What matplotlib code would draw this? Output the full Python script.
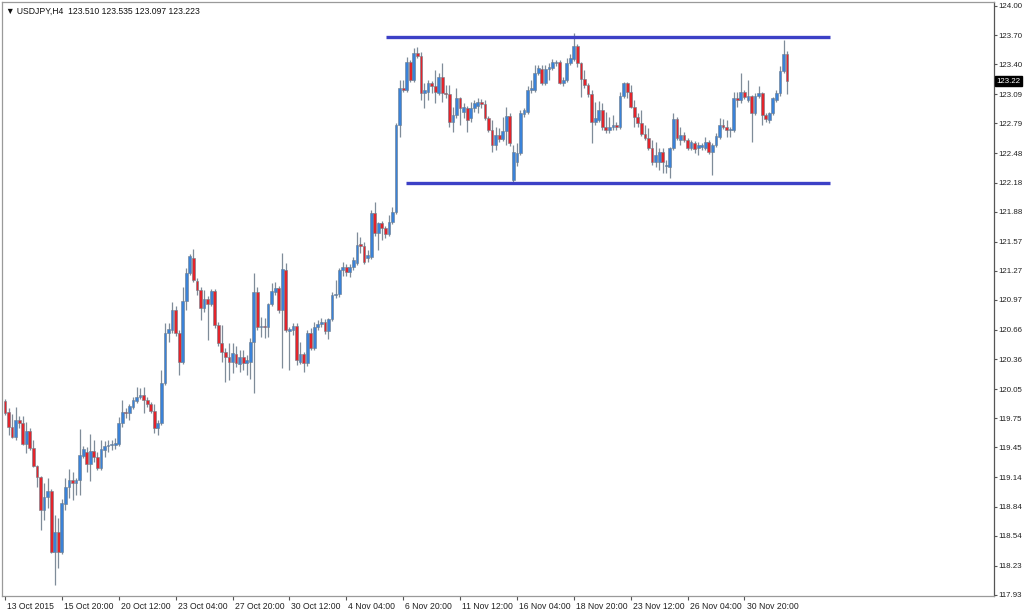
import matplotlib
matplotlib.use("Agg")
import matplotlib.pyplot as plt
import matplotlib.transforms as mtransforms

plt.rcParams['font.family'] = ['Liberation Sans', 'DejaVu Sans']

# ---------------- data (USDJPY H4) ----------------
opens = [119.93,119.81,119.66,119.56,119.73,119.70,119.48,119.62,119.44,119.26,
         119.14,118.80,118.94,119.00,118.37,118.58,118.37,118.87,119.04,119.11,
         119.08,119.11,119.36,119.40,119.28,119.41,119.35,119.24,119.42,119.46,
         119.47,119.47,119.48,119.70,119.81,119.80,119.87,119.93,119.97,119.99,
         119.94,119.90,119.82,119.65,119.70,120.11,120.63,120.66,120.87,120.63,
         120.33,120.96,121.25,121.40,121.16,121.07,120.89,120.98,120.93,121.06,
         120.71,120.53,120.43,120.38,120.33,120.41,120.31,120.38,120.32,120.33,
         120.54,121.05,120.69,120.70,120.69,120.93,121.05,121.09,120.87,121.28,
         120.65,120.66,120.70,120.33,120.41,120.32,120.63,120.47,120.69,120.72,
         120.74,120.65,120.77,121.02,121.03,121.28,121.31,121.26,121.31,121.35,
         121.54,121.53,121.40,121.41,121.87,121.66,121.76,121.71,121.65,121.77,
         121.88,122.77,123.15,123.13,123.42,123.24,123.52,123.48,123.10,123.11,
         123.21,123.18,123.10,123.27,123.10,123.09,122.80,122.88,123.05,122.91,
         122.95,122.85,122.95,122.97,123.01,122.99,122.85,122.72,122.57,122.67,
         122.63,122.71,122.87,122.21,122.39,122.48,122.89,122.91,123.13,123.13,
         123.31,123.35,123.21,123.35,123.36,123.41,123.42,123.21,123.24,123.41,
         123.45,123.59,123.41,123.25,123.19,123.09,122.80,122.82,122.93,122.75,
         122.72,122.75,122.77,122.75,123.07,123.21,123.11,122.96,122.86,122.79,
         122.68,122.64,122.54,122.39,122.39,122.49,122.35,122.34,122.54,122.84,
         122.62,122.67,122.62,122.54,122.59,122.54,122.55,122.54,122.60,122.49,
         122.57,122.65,122.77,122.75,122.72,122.72,123.05,123.03,123.11,123.03,
         123.07,122.90,123.07,123.10,122.88,122.82,122.90,123.03,123.10,123.33,
         123.510]
highs = [119.95,119.86,119.79,119.87,119.77,119.77,119.71,119.65,119.53,119.27,
         119.16,119.08,119.13,119.02,118.75,118.72,118.92,119.13,119.23,119.20,
         119.13,119.64,119.46,119.45,119.59,119.53,119.40,119.53,119.52,119.53,
         119.53,119.55,119.76,119.94,119.86,119.90,119.97,120.07,120.06,120.07,
         119.97,119.92,119.90,119.73,120.25,120.73,120.73,120.95,120.91,120.66,
         121.10,121.30,121.44,121.49,121.20,121.10,121.07,121.01,121.08,121.08,
         120.74,120.71,120.47,120.53,120.53,120.50,120.45,120.45,120.40,120.58,
         121.25,121.10,120.79,120.78,120.94,121.14,121.15,121.11,121.45,121.35,
         120.69,120.73,120.73,120.54,120.43,120.66,120.68,120.74,120.76,120.78,
         120.77,120.78,121.05,121.18,121.30,121.36,121.34,121.34,121.41,121.67,
         121.62,121.57,121.48,121.90,121.98,121.77,121.78,121.73,121.85,121.93,
         122.79,123.24,123.24,123.47,123.44,123.57,123.58,123.53,123.21,123.24,
         123.23,123.34,123.31,123.41,123.19,123.19,122.96,123.15,123.06,123.00,
         122.97,123.01,123.03,123.05,123.04,123.03,122.87,122.82,122.75,122.74,
         122.86,122.96,122.90,122.57,122.59,122.93,122.95,123.17,123.24,123.39,
         123.39,123.39,123.39,123.41,123.45,123.44,123.44,123.27,123.46,123.50,
         123.72,123.61,123.42,123.34,123.21,123.13,123.01,123.02,123.00,122.91,
         122.86,122.88,122.80,123.11,123.22,123.22,123.19,123.03,122.90,122.93,
         122.77,122.74,122.62,122.60,122.54,122.54,122.41,122.55,122.90,122.86,
         122.75,122.70,122.64,122.62,122.61,122.60,122.59,122.65,122.62,122.59,
         122.69,122.85,122.83,122.82,122.75,123.11,123.11,123.31,123.13,123.24,
         123.08,123.10,123.17,123.11,122.90,122.91,123.06,123.13,123.38,123.65,
         123.535]
lows = [119.78,119.58,119.55,119.53,119.65,119.47,119.39,119.42,119.25,119.04,
        118.60,118.70,118.83,118.36,118.03,118.21,118.35,118.80,118.93,118.91,
        118.96,118.96,119.34,119.20,119.10,119.30,119.22,119.22,119.35,119.40,
        119.42,119.43,119.46,119.66,119.75,119.73,119.85,119.91,119.95,119.80,
        119.87,119.80,119.60,119.58,119.68,120.09,120.54,120.63,120.60,120.20,
        120.31,120.87,121.23,121.15,121.02,120.76,120.85,120.56,120.91,120.68,
        120.49,120.33,120.12,120.14,120.22,120.28,120.23,120.25,120.20,120.16,
        120.01,120.66,120.59,120.58,120.59,120.91,121.02,120.84,120.27,120.64,
        120.25,120.61,120.30,120.31,120.23,120.29,120.45,120.45,120.66,120.69,
        120.62,120.57,120.75,120.99,121.00,121.22,121.22,121.21,121.28,121.33,
        121.45,121.34,121.36,121.39,121.63,121.48,121.59,121.61,121.63,121.75,
        121.86,122.65,123.11,123.11,123.22,123.22,123.46,123.03,122.95,123.03,
        123.10,123.00,123.08,123.01,123.05,122.75,122.70,122.85,122.77,122.85,
        122.70,122.80,122.91,122.90,122.95,122.82,122.70,122.49,122.52,122.60,
        122.61,122.57,122.56,122.19,122.35,122.46,122.86,122.89,123.10,123.11,
        123.29,123.19,123.19,123.24,123.34,123.38,123.20,123.18,123.22,123.39,
        123.43,123.37,123.06,123.15,123.06,122.59,122.77,122.80,122.72,122.69,
        122.69,122.72,122.72,122.73,123.05,123.05,122.95,122.75,122.75,122.66,
        122.62,122.52,122.36,122.34,122.31,122.28,122.28,122.23,122.52,122.62,
        122.57,122.60,122.52,122.52,122.48,122.46,122.52,122.52,122.47,122.26,
        122.55,122.63,122.73,122.65,122.65,122.70,122.96,123.00,123.04,123.01,
        122.60,122.88,123.05,122.77,122.80,122.79,122.88,123.01,123.07,123.31,
        123.097]
closes = [119.80,119.66,119.56,119.73,119.70,119.48,119.62,119.44,119.26,119.14,
          118.80,118.94,119.00,118.37,118.58,118.37,118.88,119.04,119.11,119.08,
          119.11,119.37,119.43,119.28,119.41,119.35,119.24,119.43,119.46,119.47,
          119.48,119.49,119.70,119.81,119.80,119.88,119.94,119.97,119.99,119.94,
          119.90,119.82,119.65,119.70,120.11,120.63,120.67,120.87,120.63,120.33,
          120.96,121.25,121.42,121.18,121.07,120.89,120.98,120.93,121.06,120.71,
          120.53,120.43,120.38,120.33,120.42,120.32,120.38,120.32,120.35,120.54,
          121.05,120.69,120.70,120.69,120.93,121.06,121.09,120.87,121.29,120.66,
          120.67,120.70,120.35,120.41,120.32,120.63,120.47,120.69,120.72,120.74,
          120.65,120.77,121.02,121.03,121.28,121.31,121.26,121.31,121.38,121.54,
          121.53,121.36,121.43,121.87,121.66,121.76,121.71,121.65,121.77,121.88,
          122.77,123.15,123.13,123.42,123.24,123.52,123.48,123.10,123.13,123.21,
          123.18,123.11,123.27,123.10,123.09,122.80,122.88,123.05,122.95,122.96,
          122.82,122.95,123.00,123.01,122.99,122.85,122.72,122.57,122.67,122.63,
          122.71,122.87,122.59,122.49,122.48,122.90,122.93,123.13,123.15,123.31,
          123.36,123.21,123.35,123.37,123.42,123.42,123.21,123.24,123.41,123.46,
          123.59,123.41,123.25,123.19,123.09,122.80,122.85,122.93,122.75,122.72,
          122.75,122.77,122.75,123.07,123.21,123.11,122.96,122.86,122.79,122.68,
          122.64,122.54,122.39,122.46,122.49,122.39,122.36,122.54,122.84,122.64,
          122.67,122.62,122.54,122.60,122.53,122.57,122.56,122.60,122.49,122.57,
          122.66,122.77,122.75,122.72,122.73,123.05,123.03,123.11,123.06,123.07,
          122.90,123.07,123.10,122.88,122.84,122.90,123.05,123.10,123.33,123.51,
          123.223]

xtick_bars = [0, 16, 32, 48, 64, 80, 96, 112, 128, 144, 160, 176, 192, 208]
xtick_labels = ["13 Oct 2015", "15 Oct 20:00", "20 Oct 12:00", "23 Oct 04:00",
                "27 Oct 20:00", "30 Oct 12:00", "4 Nov 04:00", "6 Nov 20:00",
                "11 Nov 12:00", "16 Nov 04:00", "18 Nov 20:00", "23 Nov 12:00",
                "26 Nov 04:00", "30 Nov 20:00"]
ytick_values = [124.00, 123.70, 123.40, 123.09, 122.79, 122.48, 122.18, 121.88,
                121.57, 121.27, 120.97, 120.66, 120.36, 120.05, 119.75, 119.45,
                119.14, 118.84, 118.54, 118.23, 117.93]
resistance = 123.68
support = 122.175
resistance_span = (107.2, 232.0)
support_span = (112.8, 232.0)
last_price = 123.223
title_text = "\u25BC USDJPY,H4  123.510 123.535 123.097 123.223"

# ---------------- drawing ----------------
BULL = "#3a82d8"
BEAR = "#e3242b"
WICK = "#7f8c99"
LINE = "#3c40c6"
FS = 6.2
FSY = 5.7

fig = plt.figure(figsize=(10.24, 6.14), dpi=100)
ax = fig.add_axes([2 / 1024, 18 / 614, 992 / 1024, 594 / 614])
ax.set_facecolor("white")

n = len(opens)
xs = list(range(n))
ax.vlines(xs, lows, highs, color=WICK, linewidth=0.9, zorder=2)
for i in xs:
    o, c = opens[i], closes[i]
    bottom = min(o, c)
    h = max(abs(c - o), 0.012)
    col = BULL if c >= o else BEAR
    ax.bar(i, h, bottom=bottom, width=0.78, color=col, edgecolor="#6e7d8c",
           linewidth=0.4, zorder=3)

ax.hlines(resistance, *resistance_span, color=LINE, linewidth=2.4, zorder=4)
ax.hlines(support, *support_span, color=LINE, linewidth=2.4, zorder=4)

ax.set_xlim(-0.84, 278.2)
ax.set_ylim(117.918, 124.041)

ax.yaxis.tick_right()
ax.set_yticks(ytick_values)
ax.set_yticklabels([f"{v:.2f}" for v in ytick_values])
ax.tick_params(axis="y", direction="out", length=2.5, width=0.8, colors="#555555",
               labelcolor="#222222", labelsize=FSY, pad=1.0)
ax.set_xticks(xtick_bars)
ax.set_xticklabels(xtick_labels, ha="left")
ax.tick_params(axis="x", direction="out", length=3, width=0.8, colors="#555555",
               labelcolor="#222222", labelsize=FS, pad=1.5)
offset = mtransforms.ScaledTranslation(1.5 / 72, 0, fig.dpi_scale_trans)
for lab in ax.get_xticklabels():
    lab.set_transform(lab.get_transform() + offset)

for side in ["left", "top", "bottom"]:
    ax.spines[side].set_color("#9a9a9a")
    ax.spines[side].set_linewidth(0.9)
ax.spines["right"].set_color("#555555")
ax.spines["right"].set_linewidth(0.9)

ax.annotate("123.22", xy=(1.0, last_price), xycoords=("axes fraction", "data"),
            xytext=(1.8, 0), textcoords="offset points", va="center", ha="left",
            fontsize=FSY, color="white",
            bbox=dict(boxstyle="square,pad=0.2", fc="black", ec="black"))

ax.text(0.004, 0.992, title_text, transform=ax.transAxes, fontsize=FS,
        va="top", ha="left", color="#111111")

fig.savefig("out.png", dpi=100, facecolor="white")
